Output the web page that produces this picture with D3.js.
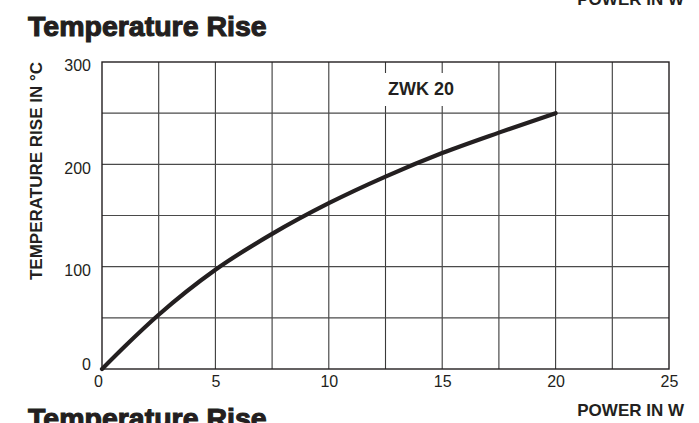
<!DOCTYPE html>
<html>
<head>
<meta charset="utf-8">
<script src="https://cdn.jsdelivr.net/npm/d3@7"></script>
<style>
  html, body { margin: 0; padding: 0; background: #fff; }
  svg { display: block; }
  text { font-family: "Liberation Sans", Arial, Helvetica, sans-serif; fill: #231f20; }
</style>
</head>
<body>
<svg id="chart" width="699" height="423"></svg>
<script>
// ---- data ----
const title = "Temperature Rise";
const xLabel = "POWER IN W";
const yLabel = "TEMPERATURE RISE IN °C";
const seriesName = "ZWK 20";
const powerW = [0, 1, 2.5, 5, 7.5, 10, 12.5, 15, 17.5, 20];
const riseC  = [0, 22, 53, 97, 132, 162, 188, 211, 231, 250];
const xTicks = [0, 5, 10, 15, 20, 25];
const yTicks = [0, 100, 200, 300];
const xGrid = [2.5, 5, 7.5, 10, 12.5, 15, 17.5, 20, 22.5];
const yGrid = [50, 100, 150, 200, 250];

const svg = d3.select("#chart");
const x = d3.scaleLinear().domain([0, 25]).range([102, 669]);
const y = d3.scaleLinear().domain([0, 300]).range([369, 62]);

// top clipped label (from previous page section)
svg.append("text").attr("x", 684).attr("y", 5).attr("text-anchor", "end")
  .attr("font-size", 17).attr("font-weight", "bold").text(xLabel);

// title
svg.append("text").attr("x", 28).attr("y", 36)
  .attr("font-size", 28.5).attr("font-weight", "bold")
  .attr("stroke", "#231f20").attr("stroke-width", 1.1)
  .text(title);

// grid
const g = svg.append("g");
g.selectAll("line.vg").data(xGrid).join("line")
  .attr("x1", d => x(d)).attr("x2", d => x(d))
  .attr("y1", y(300)).attr("y2", y(0))
  .attr("stroke", "#3a3a3a").attr("stroke-width", 1.1);
g.selectAll("line.hg").data(yGrid).join("line")
  .attr("y1", d => y(d)).attr("y2", d => y(d))
  .attr("x1", x(0)).attr("x2", x(25))
  .attr("stroke", "#4a4a4a").attr("stroke-width", 1.1);
g.append("rect")
  .attr("x", x(0)).attr("y", y(300))
  .attr("width", x(25) - x(0)).attr("height", y(0) - y(300))
  .attr("fill", "none").attr("stroke", "#231f20").attr("stroke-width", 1.4);

// series label with white mask
const lbl = svg.append("text").attr("x", 388).attr("y", 95)
  .attr("font-size", 18).attr("font-weight", "bold").text(seriesName);
const bb = lbl.node().getBBox();
svg.insert("rect", "text:last-of-type")
  .attr("x", bb.x - 6).attr("y", 73)
  .attr("width", bb.width + 12).attr("height", 33)
  .attr("fill", "#fff");
lbl.raise();

// curve
const pts = powerW.map((p, i) => [p, riseC[i]]);
svg.append("path").datum(pts)
  .attr("fill", "none").attr("stroke", "#231f20").attr("stroke-width", 4.2)
  .attr("stroke-linecap", "round")
  .attr("d", d3.line().x(d => x(d[0])).y(d => y(d[1])).curve(d3.curveMonotoneX));

// axes (labels only)
const xAxis = svg.append("g").attr("transform", `translate(0,${y(0)})`)
  .call(d3.axisBottom(x).tickValues(xTicks).tickSize(0).tickPadding(7).tickFormat(d3.format("d")));
xAxis.select(".domain").remove();
xAxis.selectAll("text").attr("font-size", 16).attr("fill", "#231f20")
  .style("font-family", '"Liberation Sans", Arial, sans-serif');
xAxis.selectAll(".tick").filter(d => d === 0).select("text").attr("dx", -4);

const yAxis = svg.append("g").attr("transform", `translate(${x(0)},0)`)
  .call(d3.axisLeft(y).tickValues(yTicks).tickSize(0).tickPadding(11).tickFormat(d3.format("d")));
yAxis.select(".domain").remove();
yAxis.selectAll("text").attr("font-size", 16).attr("fill", "#231f20").attr("dy", "0.55em")
  .style("font-family", '"Liberation Sans", Arial, sans-serif');
yAxis.selectAll(".tick").filter(d => d === 0).select("text").attr("dy", "0.05em");

// y axis title
svg.append("text").attr("transform", "translate(42,171) rotate(-90)")
  .attr("text-anchor", "middle").attr("font-size", 17).attr("font-weight", "bold")
  .text(yLabel);

// x axis title
svg.append("text").attr("x", 684).attr("y", 416).attr("text-anchor", "end")
  .attr("font-size", 17).attr("font-weight", "bold").text(xLabel);

// bottom clipped title (next section)
svg.append("text").attr("x", 28).attr("y", 428)
  .attr("font-size", 28.5).attr("font-weight", "bold")
  .attr("stroke", "#231f20").attr("stroke-width", 1.1)
  .text(title);
</script>
</body>
</html>
